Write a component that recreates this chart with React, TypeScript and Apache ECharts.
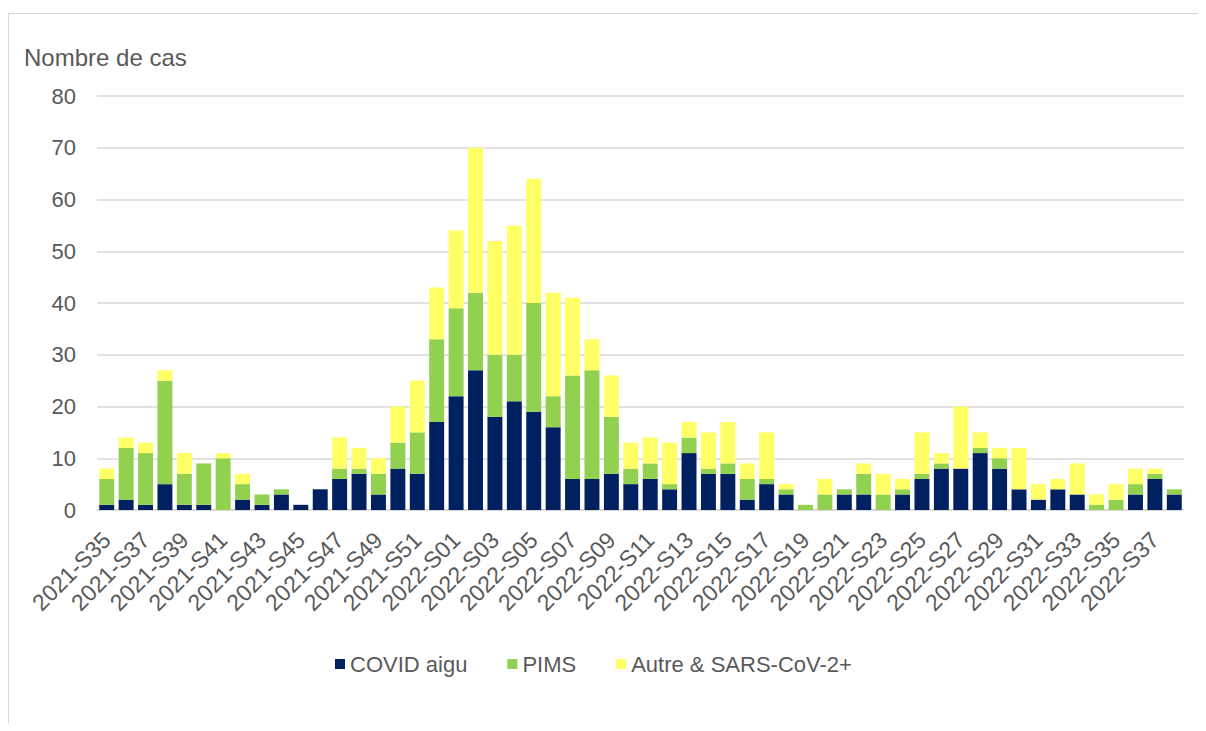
import React, { useEffect, useRef } from "react";
import * as echarts from "echarts";

const weeks2021 = ["S35","S36","S37","S38","S39","S40","S41","S42","S43","S44","S45","S46","S47","S48","S49","S50","S51","S52"];
const weeks2022 = ["S01","S02","S03","S04","S05","S06","S07","S08","S09","S10","S11","S12","S13","S14","S15","S16","S17","S18","S19","S20","S21","S22","S23","S24","S25","S26","S27","S28","S29","S30","S31","S32","S33","S34","S35","S36","S37","S38"];
const categories = [
  ...weeks2021.map((w) => "2021-" + w),
  ...weeks2022.map((w) => "2022-" + w),
];

const covidAigu = [
  1, 2, 1, 5, 1, 1, 0, 2, 1, 3, 1, 4, 6, 7, 3, 8, 7, 17,
  22, 27, 18, 21, 19, 16, 6, 6, 7, 5, 6, 4, 11, 7, 7, 2, 5, 3, 0, 0, 3, 3, 0, 3, 6, 8, 8, 11, 8, 4, 2, 4, 3, 0, 0, 3, 6, 3,
];
const pims = [
  5, 10, 10, 20, 6, 8, 10, 3, 2, 1, 0, 0, 2, 1, 4, 5, 8, 16,
  17, 15, 12, 9, 21, 6, 20, 21, 11, 3, 3, 1, 3, 1, 2, 4, 1, 1, 1, 3, 1, 4, 3, 1, 1, 1, 0, 1, 2, 0, 0, 0, 0, 1, 2, 2, 1, 1,
];
const autre = [
  2, 2, 2, 2, 4, 0, 1, 2, 0, 0, 0, 0, 6, 4, 3, 7, 10, 10,
  15, 28, 22, 25, 24, 20, 15, 6, 8, 5, 5, 8, 3, 7, 8, 3, 9, 1, 0, 3, 0, 2, 4, 2, 8, 2, 12, 3, 2, 8, 3, 2, 6, 2, 3, 3, 1, 0,
];

const yTicks = [0, 10, 20, 30, 40, 50, 60, 70, 80];

const seriesNames = ["COVID aigu", "PIMS", "Autre & SARS-CoV-2+"];
const seriesColors = ["#002060", "#92D050", "#FFFF66"];

export default function App() {
  const ref = useRef<HTMLDivElement>(null);

  useEffect(() => {
    if (!ref.current) return;
    const chart = echarts.init(ref.current, null, { renderer: "svg" });
    const font = "Arial, 'Liberation Sans', sans-serif";
    const dataSets = [covidAigu, pims, autre];
    chart.setOption({
      animation: false,
      textStyle: { fontFamily: font },
      graphic: [
        {
          type: "rect",
          shape: { x: 0.5, y: 5.5, width: 1400, height: 1000 },
          style: { fill: "none", stroke: "#d9d9d9", lineWidth: 1 },
          silent: true,
        },
        {
          type: "text",
          left: 16,
          top: 37,
          style: {
            text: "Nombre de cas",
            fill: "#595959",
            font: `24px ${font}`,
          },
        },
      ],
      legend: {
        data: seriesNames,
        top: 640,
        left: 322,
        icon: "rect",
        itemWidth: 10,
        itemHeight: 10,
        itemGap: 40,
        textStyle: { color: "#595959", fontSize: 22, fontFamily: font },
      },
      grid: { left: 89, right: 14, top: 88, bottom: 213, containLabel: false },
      xAxis: {
        type: "category",
        data: categories,
        axisLine: { lineStyle: { color: "#d9d9d9", width: 1.5 } },
        axisTick: { show: false },
        axisLabel: {
          interval: 1,
          rotate: 45,
          color: "#595959",
          fontSize: 23,
          fontFamily: font,
          margin: 26,
        },
      },
      yAxis: {
        type: "value",
        min: yTicks[0],
        max: yTicks[yTicks.length - 1],
        interval: 10,
        axisLine: { show: false },
        axisTick: { show: false },
        splitLine: { lineStyle: { color: "#d9d9d9", width: 1.5 } },
        axisLabel: { color: "#595959", fontSize: 22, fontFamily: font, margin: 21 },
      },
      series: seriesNames.map((name, i) => ({
        name,
        type: "bar",
        stack: "total",
        data: dataSets[i],
        barCategoryGap: "23%",
        itemStyle: { color: seriesColors[i] },
      })),
    });
    return () => chart.dispose();
  }, []);

  return <div ref={ref} style={{ width: 1190, height: 715 }} />;
}
